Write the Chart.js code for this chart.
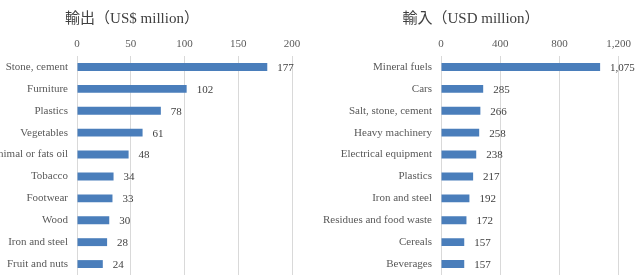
<!DOCTYPE html>
<html>
<head>
<meta charset="utf-8">
<script src="https://cdn.jsdelivr.net/npm/chart.js@4"></script>
<style>
  body { margin: 0; background: #fff; width: 636px; height: 278px; overflow: hidden; position: relative; }
  canvas { position: absolute; top: 0; }
  #chartExport { left: -28px; }
  #chartImport { left: 318px; }
</style>
</head>
<body>
<canvas id="chartExport" width="346" height="278"></canvas>
<canvas id="chartImport" width="318" height="278"></canvas>
<script>
// exportaciones
const exportCategories = ['Stone, cement', 'Furniture', 'Plastics', 'Vegetables', 'Animal or fats oil',
    'Tobacco', 'Footwear', 'Wood', 'Iron and steel', 'Fruit and nuts'];
const exportValues = [177, 102, 78, 61, 48, 34, 33, 30, 28, 24];
const exportTicks = [0, 50, 100, 150, 200];

// importaciones
const importCategories = ['Mineral fuels', 'Cars', 'Salt, stone, cement', 'Heavy machinery', 'Electrical equipment',
    'Plastics', 'Iron and steel', 'Residues and food waste', 'Cereals', 'Beverages'];
const importValues = [1075, 285, 266, 258, 238, 217, 192, 172, 157, 157];
const importTicks = [0, 400, 800, 1200];

const serif = '"Liberation Serif", "DejaVu Serif", "Noto Sans CJK JP", serif';

// etiquetas de valor al final de cada barra
const valueLabels = {
    id: 'valueLabels',
    afterDatasetsDraw(chart) {
        const ctx = chart.ctx;
        const meta = chart.getDatasetMeta(0);
        ctx.save();
        ctx.font = '11px ' + serif;
        ctx.fillStyle = '#404040';
        ctx.textBaseline = 'middle';
        ctx.textAlign = 'left';
        meta.data.forEach((bar, i) => {
            const v = chart.data.datasets[0].data[i];
            ctx.fillText(v.toLocaleString('en-US'), bar.x + 10, bar.y + 1);
        });
        ctx.restore();
    }
};

function crearGrafica(id, title, labels, data, ticks, yWidth, padRight) {
    const ctx = document.getElementById(id).getContext('2d');
    return new Chart(ctx, {
        type: 'bar',
        data: {
            labels: labels,
            datasets: [{
                data: data,
                backgroundColor: '#4a7ebb',
                barPercentage: 0.36,
                categoryPercentage: 1
            }]
        },
        options: {
            indexAxis: 'y',
            responsive: false,
            animation: false,
            layout: { padding: { top: 0, right: padRight, bottom: 3, left: 0 } },
            plugins: {
                legend: { display: false },
                tooltip: { enabled: false },
                title: {
                    display: true,
                    text: title,
                    color: '#404040',
                    font: { family: serif, size: 15, weight: 'normal', lineHeight: 1.2 },
                    padding: { top: 10, bottom: 8 }
                }
            },
            scales: {
                x: {
                    position: 'top',
                    min: ticks[0],
                    max: ticks[ticks.length - 1],
                    afterBuildTicks: (scale) => { scale.ticks = ticks.map(v => ({ value: v })); },
                    afterFit: (scale) => { scale.height = 20; },
                    ticks: {
                        color: '#595959',
                        padding: 5,
                        font: { family: serif, size: 11 },
                        callback: (v) => v.toLocaleString('en-US')
                    },
                    grid: { color: '#d9d9d9', drawTicks: false },
                    border: { display: false }
                },
                y: {
                    afterFit: (scale) => {
                        scale.width = yWidth;
                        scale.paddingTop = 0;
                        scale.paddingBottom = 0;
                    },
                    ticks: {
                        color: '#595959',
                        padding: 9,
                        font: { family: serif, size: 11 }
                    },
                    grid: { display: false, drawTicks: false },
                    border: { display: false }
                }
            }
        },
        plugins: [valueLabels]
    });
}

crearGrafica('chartExport', '輸出（US$ million）', exportCategories, exportValues, exportTicks, 105, 26);
crearGrafica('chartImport', '輸入（USD million）', importCategories, importValues, importTicks, 123, 12);
</script>
</body>
</html>
